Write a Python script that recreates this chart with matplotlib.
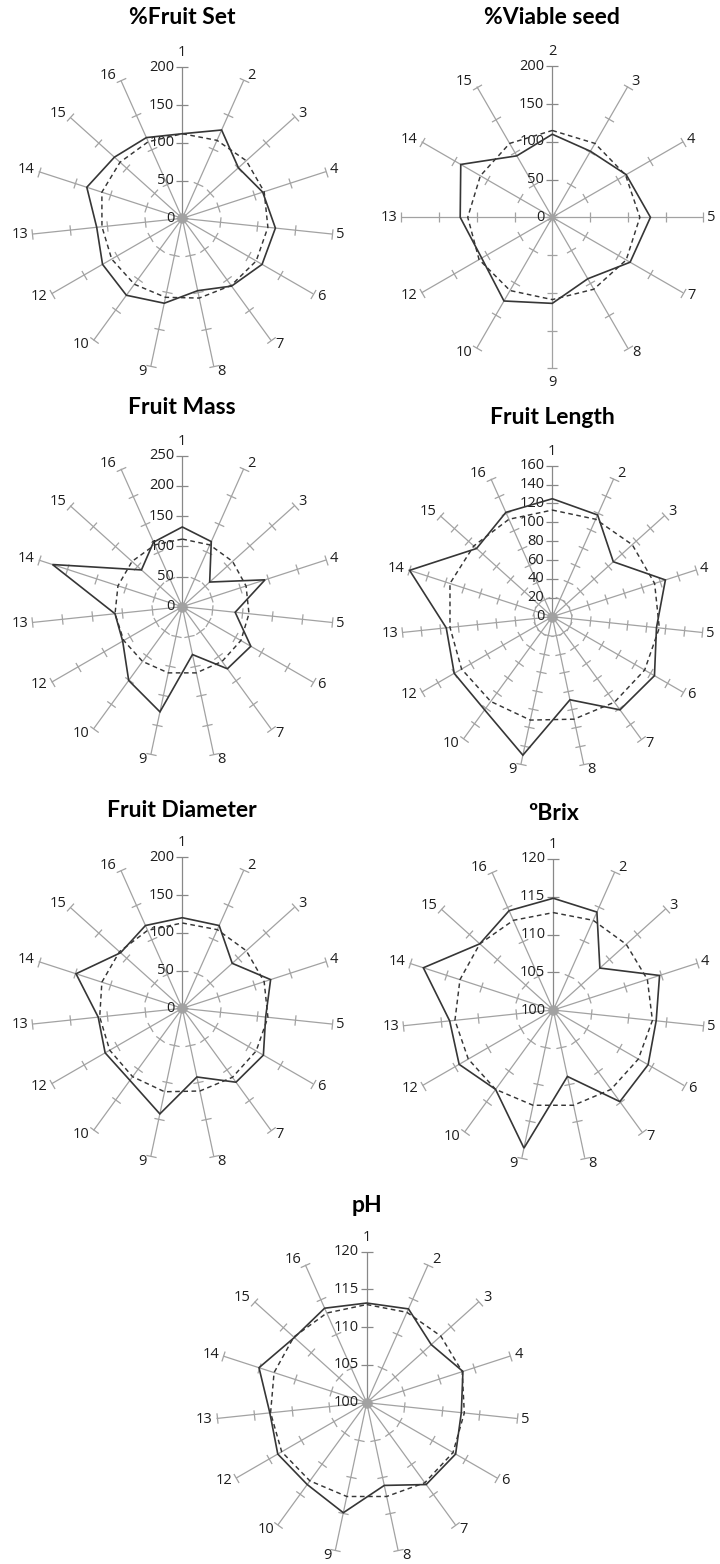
import numpy as np
import matplotlib
matplotlib.use('Agg')
import matplotlib.pyplot as plt
from matplotlib.patches import Polygon

plt.rcParams['font.family'] = ['Open Sans', 'DejaVu Sans']

# ---------------- data ----------------
cats15 = ['1', '2', '3', '4', '5', '6', '7', '8', '9', '10', '12', '13', '14', '15', '16']
cats12 = ['2', '3', '4', '5', '7', '8', '9', '10', '12', '13', '14', '15']

fruit_set = [112, 128, 100, 112, 124, 122, 111, 98, 115, 126, 122, 114, 133, 121, 117]
fruit_set_ref = [112, 113, 114, 114, 114, 113, 110, 108, 107, 108, 108, 107, 112, 111, 111]

viable_seed = [110, 101, 113, 130, 119, 94, 114, 128, 108, 122, 140, 94]
viable_seed_ref = [115, 113, 112, 116, 113, 110, 109, 112, 112, 112, 110, 113]

fruit_mass = [132, 118, 61, 144, 88, 131, 127, 81, 178, 151, 114, 112, 226, 91, 117]
fruit_mass_ref = [112, 112, 112, 111, 111, 112, 112, 112, 112, 112, 112, 112, 112, 112, 112]

fruit_length = [125, 118, 87, 126, 111, 125, 122, 90, 150, 122, 120, 113, 159, 108, 121]
fruit_length_ref = [113, 113, 114, 114, 114, 113, 112, 111, 112, 111, 111, 109, 114, 112, 113]

fruit_diam = [120, 120, 89, 123, 111, 124, 121, 93, 143, 118, 118, 112, 148, 110, 120]
fruit_diam_ref = [113, 114, 114, 114, 114, 113, 113, 112, 113, 112, 111, 110, 112, 112, 113]

brix = [114.8, 114.2, 108.3, 114.8, 113.7, 114.5, 115.0, 109.0, 118.7, 113.0, 114.4, 113.8, 118.1, 113.1, 114.4]
brix_ref = [112.9, 113.0, 113.0, 113.1, 113.2, 113.0, 113.0, 112.9, 112.9, 113.0, 113.0, 113.1, 113.0, 113.1, 113.0]

ph = [113.2, 113.6, 111.5, 113.4, 112.6, 113.6, 113.4, 111.2, 114.9, 113.4, 113.6, 112.9, 115.0, 112.9, 113.7]
ph_ref = [113.0, 113.1, 113.2, 113.3, 113.0, 113.2, 113.1, 112.7, 112.7, 112.8, 113.0, 112.8, 112.9, 113.0, 113.0]

titles = ['%Fruit Set', '%Viable seed', 'Fruit Mass', 'Fruit Length',
          'Fruit Diameter', 'ºBrix', 'pH']

# ---------------- layout ----------------
W, H = 720, 1564
fig = plt.figure(figsize=(W / 100, H / 100), dpi=100)
fig.patch.set_facecolor('white')

R = 151
SPOKE = '#a2a2a2'
VAXIS = '#888888'
LINE = '#363636'
TXT = '#1e1e1e'
FS = 10.5


def radar(cx, cy, title, ty, cats, vals, ref, rmin, rmax, step):
    ax = fig.add_axes([(cx - R) / W, (H - cy - R) / H, 2 * R / W, 2 * R / H],
                      projection='polar')
    ax.set_theta_zero_location('N')
    ax.set_theta_direction(-1)
    ax.grid(False)
    ax.set_xticks([])
    ax.set_yticks([])
    ax.spines['polar'].set_visible(False)
    ax.patch.set_alpha(0)

    n = len(cats)
    theta = np.arange(n) * 2 * np.pi / n
    levels = np.arange(rmin, rmax + step / 2, step)

    for i, t in enumerate(theta):
        col = VAXIS if i == 0 else SPOKE
        ax.plot([t, t], [rmin, rmax], color=col, lw=0.9, solid_capstyle='butt',
                clip_on=False, zorder=1)
        deg = np.degrees(t)
        ax.plot(np.full(len(levels), t), levels, ls='none',
                marker=(2, 0, 90 - deg), ms=8.5 if i == 0 else 7.5,
                mec=col, mew=0.9, clip_on=False, zorder=1)
        s, c = np.sin(t), np.cos(t)
        if abs(s) < 0.05:
            ha, va = 'center', ('bottom' if c > 0 else 'top')
            off = (0, 7 if c > 0 else -7)
        else:
            ha = 'left' if s > 0 else 'right'
            va = 'center'
            off = (4 if s > 0 else -4, 5.5 * c)
        ax.annotate(cats[i], xy=(t, rmax), xytext=off, textcoords='offset pixels',
                    ha=ha, va=va, fontsize=FS, color=TXT, annotation_clip=False)

    for lv in levels:
        ax.annotate(f'{lv:g}', xy=(0, lv), xytext=(-8, 0), textcoords='offset pixels',
                    ha='right', va='center', fontsize=FS, color=TXT,
                    annotation_clip=False, zorder=2)

    ax.add_patch(Polygon(np.column_stack([theta, ref]), closed=True, fill=False,
                         edgecolor=LINE, lw=1.05, linestyle=(0, (3.2, 2.4)),
                         transform=ax.transData, clip_on=False, zorder=3))
    ax.add_patch(Polygon(np.column_stack([theta, vals]), closed=True, fill=False,
                         edgecolor=LINE, lw=1.2, joinstyle='miter',
                         transform=ax.transData, clip_on=False, zorder=4))
    ax.set_ylim(rmin, rmax)

    fig.text(cx / W, 1 - ty / H, title, ha='center', va='center', fontsize=16.5,
             fontweight='bold', family=['Lato', 'DejaVu Sans'], color='black')


radar(182.3, 218.3, titles[0], 18, cats15, fruit_set, fruit_set_ref, 0, 200, 50)
radar(552.3, 217.3, titles[1], 18, cats12, viable_seed, viable_seed_ref, 0, 200, 50)
radar(182.3, 606.7, titles[2], 408, cats15, fruit_mass, fruit_mass_ref, 0, 250, 50)
radar(552.3, 616.7, titles[3], 418, cats15, fruit_length, fruit_length_ref, 0, 160, 20)
radar(182.3, 1008.3, titles[4], 811, cats15, fruit_diam, fruit_diam_ref, 0, 200, 50)
radar(553.3, 1010.0, titles[5], 814, cats15, brix, brix_ref, 100, 120, 5)
radar(366.7, 1402.7, titles[6], 1206, cats15, ph, ph_ref, 100, 120, 5)

fig.savefig('out.png', dpi=100, facecolor='white')
